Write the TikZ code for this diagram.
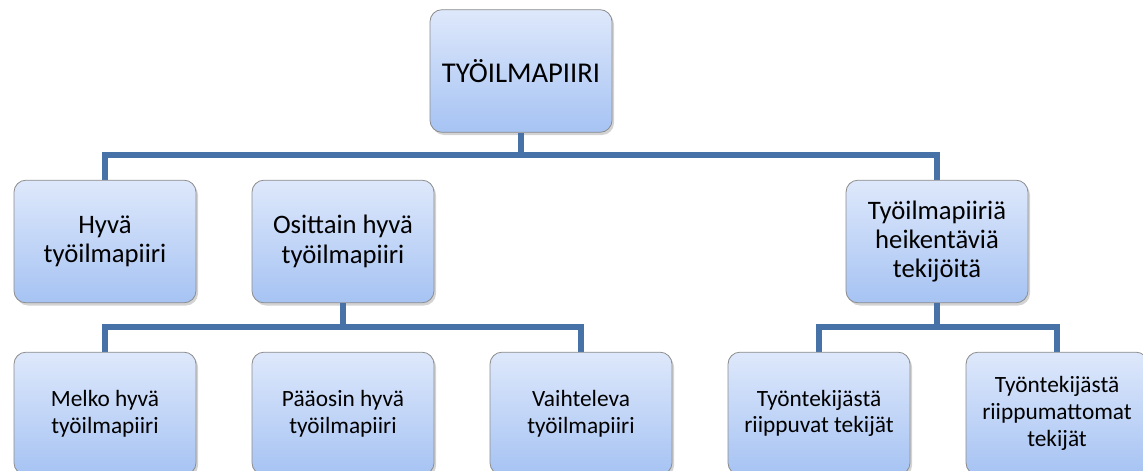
\documentclass[tikz,border=0pt]{standalone}
\usepackage{fontspec}
\setmainfont{Carlito}
\usepackage{tikz}
\usetikzlibrary{shadows}
\definecolor{linkblue}{RGB}{70,114,168}
\definecolor{boxtop}{RGB}{222,232,251}
\definecolor{boxbottom}{RGB}{166,195,243}
\definecolor{boxedge}{RGB}{140,140,140}
\tikzset{
  orgbox/.style={draw=boxedge, line width=0.6pt, rounded corners=9pt,
    top color=boxtop, bottom color=boxbottom, align=center,
    minimum width=136.5pt, minimum height=92pt, inner sep=2pt,
    drop shadow={opacity=0.35, shadow xshift=1.5pt, shadow yshift=-2pt}},
  toptext/.style={font=\fontsize{21.5}{24}\selectfont},
  bigtext/.style={font=\fontsize{20}{22}\selectfont},
  smalltext/.style={font=\fontsize{17.5}{20}\selectfont},
  link/.style={draw=linkblue, line width=3.8pt}
}

\begin{document}
\begin{tikzpicture}[x=0.75pt, y=-0.75pt]
    \useasboundingbox (0,0) rectangle (1143,471);
    \coordinate (bus0) at (521,155);
    \coordinate (bus1) at (343,327);
    \coordinate (bus2) at (937,327);
    \draw[link] (105,180) |- (bus0) -| (937,180);
    \draw[link] (105,352) |- (bus1) -| (581,352);
    \draw[link] (819,352) |- (bus2) -| (1057,352);
    \node[orgbox, toptext] (root) at (521,71) {TYÖILMAPIIRI};
    \node[orgbox, bigtext] (hyva) at (105,241.5) {Hyvä\\työilmapiiri};
    \node[orgbox, bigtext] (osittain) at (343,241.5) {Osittain hyvä\\työilmapiiri};
    \node[orgbox, bigtext] (heik) at (937,241.5) {Työilmapiiriä\\heikentäviä\\tekijöitä};
    \node[orgbox, smalltext] (melko) at (105,413.5) {Melko hyvä\\työilmapiiri};
    \node[orgbox, smalltext] (paaosin) at (343,413.5) {Pääosin hyvä\\työilmapiiri};
    \node[orgbox, smalltext] (vaiht) at (581,413.5) {Vaihteleva\\työilmapiiri};
    \node[orgbox, smalltext] (riipp) at (819,413.5) {Työntekijästä\\riippuvat tekijät};
    \node[orgbox, smalltext] (riippum) at (1057,413.5) {Työntekijästä\\riippumattomat\\tekijät};
    \draw[link] (root.south) -- (bus0);
    \draw[link] (osittain.south) -- (osittain.south |- bus1);
    \draw[link] (heik.south) -- (bus2);
  \end{tikzpicture}
\end{document}
